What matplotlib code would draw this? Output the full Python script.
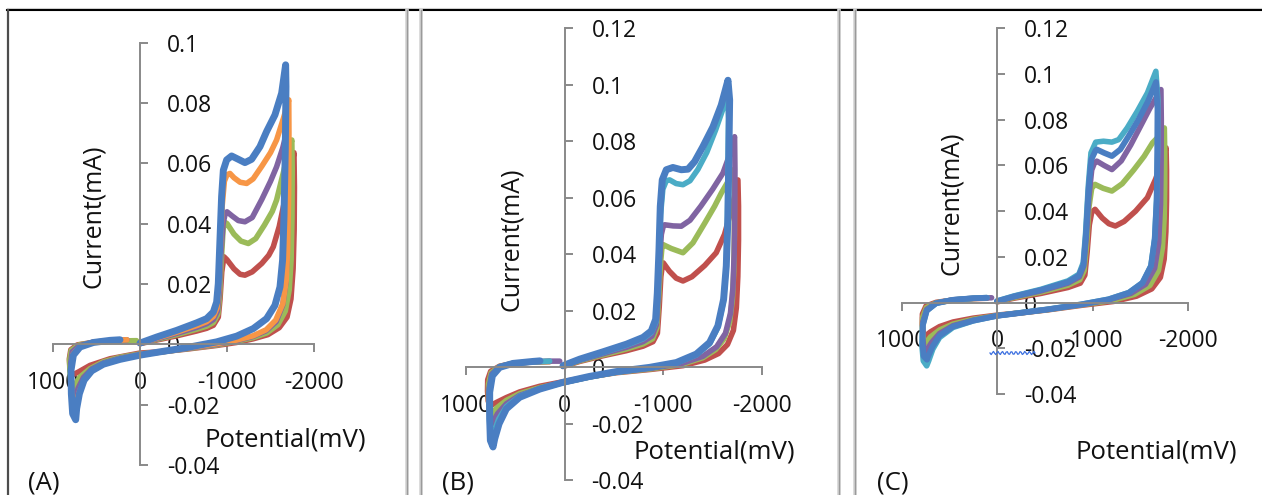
import numpy as np
import matplotlib
matplotlib.use("Agg")
import matplotlib.pyplot as plt
from matplotlib.lines import Line2D

plt.rcParams['font.family'] = ['Open Sans', 'DejaVu Sans']
plt.rcParams['axes.unicode_minus'] = False

# ---------------------------------------------------------------- data
# Cyclic voltammograms: (potential in mV, current in mA) along each sweep.
X_TICKS = [1000, 0, -1000, -2000]
X_TICK_LABELS = ["1000", "0", "-1000", "-2000"]
Y_TICKS_A = [-0.04, -0.02, 0, 0.02, 0.04, 0.06, 0.08, 0.1]
Y_TICK_LABELS_A = ["-0.04", "-0.02", "0", "0.02", "0.04", "0.06", "0.08", "0.1"]
Y_TICKS_BC = [-0.04, -0.02, 0, 0.02, 0.04, 0.06, 0.08, 0.1, 0.12]
Y_TICK_LABELS_BC = ["-0.04", "-0.02", "0", "0.02", "0.04", "0.06", "0.08", "0.1", "0.12"]
PANEL_LABELS = ["(A)", "(B)", "(C)"]

# ---- panel A
A_RED = [(0, 0.0002), (-192, 0.0014), (-421, 0.0028), (-651, 0.0044), (-766, 0.0053),
         (-843, 0.0063), (-900, 0.0090), (-920, 0.0150), (-940, 0.0240), (-965, 0.0290),
         (-1000, 0.0280), (-1080, 0.0250), (-1150, 0.0232), (-1206, 0.0229), (-1290, 0.0240),
         (-1400, 0.0268), (-1480, 0.0295), (-1532, 0.0323), (-1600, 0.0390), (-1680, 0.0500),
         (-1740, 0.0590), (-1770, 0.0635),
         (-1775, 0.0520), (-1772, 0.0380), (-1760, 0.0250), (-1735, 0.0150), (-1690, 0.0090),
         (-1600, 0.0055), (-1470, 0.0032), (-1300, 0.0018), (-1110, 0.0006), (-880, -0.0004),
         (-536, -0.0016), (-230, -0.0025), (0, -0.0029), (345, -0.0048), (575, -0.0070),
         (709, -0.0092), (785, -0.0103),
         (805, -0.0080), (812, -0.0048), (795, -0.0018), (720, -0.0002), (500, 0.0008),
         (250, 0.0011), (77, 0.0011)]
A_GREEN = [(0, 0.0003), (-192, 0.0016), (-421, 0.0032), (-651, 0.0050), (-766, 0.0060),
           (-843, 0.0072), (-895, 0.0100), (-915, 0.0160), (-935, 0.0280), (-955, 0.0380),
           (-970, 0.0405), (-1000, 0.0400), (-1080, 0.0365), (-1160, 0.0342), (-1245, 0.0334),
           (-1330, 0.0350), (-1430, 0.0395), (-1520, 0.0440), (-1570, 0.0478), (-1640, 0.0560),
           (-1700, 0.0630), (-1745, 0.0677),
           (-1750, 0.0580), (-1747, 0.0420), (-1737, 0.0280), (-1715, 0.0180), (-1670, 0.0110),
           (-1585, 0.0065), (-1460, 0.0038), (-1300, 0.0022), (-1110, 0.0010), (-880, -0.0002),
           (-536, -0.0015), (-230, -0.0026), (0, -0.0032), (230, -0.0043), (421, -0.0058),
           (575, -0.0081), (689, -0.0108), (766, -0.0142),
           (795, -0.0125), (806, -0.0090), (810, -0.0053), (790, -0.0020), (700, -0.0002),
           (500, 0.0008), (250, 0.0011), (40, 0.0012)]
A_PURPLE = [(0, 0.0003), (-192, 0.0018), (-421, 0.0036), (-651, 0.0056), (-766, 0.0068),
            (-843, 0.0082), (-890, 0.0110), (-910, 0.0170), (-930, 0.0300), (-955, 0.0400),
            (-980, 0.0433), (-1000, 0.0439), (-1060, 0.0425), (-1130, 0.0410), (-1206, 0.0406),
            (-1290, 0.0420), (-1400, 0.0480), (-1500, 0.0540), (-1570, 0.0588), (-1640, 0.0650),
            (-1700, 0.0720),
            (-1703, 0.0620), (-1700, 0.0450), (-1692, 0.0300), (-1675, 0.0200), (-1640, 0.0130),
            (-1565, 0.0075), (-1450, 0.0045), (-1300, 0.0026), (-1110, 0.0012), (-880, 0.0000),
            (-536, -0.0014), (-230, -0.0026), (0, -0.0034), (230, -0.0046), (421, -0.0062),
            (555, -0.0082), (650, -0.0110), (710, -0.0145), (755, -0.0180),
            (780, -0.0165), (795, -0.0120), (798, -0.0065), (780, -0.0025), (700, -0.0005),
            (540, 0.0007), (350, 0.0012), (150, 0.0015)]
A_ORANGE = [(0, 0.0004), (-192, 0.0020), (-421, 0.0040), (-651, 0.0062), (-766, 0.0075),
            (-843, 0.0092), (-885, 0.0120), (-905, 0.0180), (-925, 0.0320), (-945, 0.0460),
            (-970, 0.0540), (-1000, 0.0562), (-1034, 0.0566), (-1080, 0.0552), (-1150, 0.0537),
            (-1226, 0.0533), (-1300, 0.0548), (-1400, 0.0590), (-1500, 0.0635), (-1570, 0.0677),
            (-1650, 0.0750), (-1710, 0.0810),
            (-1712, 0.0700), (-1708, 0.0500), (-1698, 0.0320), (-1680, 0.0210), (-1642, 0.0135),
            (-1560, 0.0080), (-1450, 0.0048), (-1300, 0.0028), (-1110, 0.0014), (-880, 0.0002),
            (-536, -0.0013), (-230, -0.0025), (0, -0.0034), (230, -0.0048), (421, -0.0065),
            (555, -0.0088), (643, -0.0120), (700, -0.0160), (740, -0.0200), (750, -0.0220),
            (775, -0.0200), (788, -0.0150), (792, -0.0080), (770, -0.0033), (700, -0.0010),
            (540, 0.0006), (350, 0.0012), (150, 0.0015)]
A_BLUE = [(0, 0.0004), (-192, 0.0024), (-421, 0.0046), (-651, 0.0071), (-766, 0.0085),
          (-843, 0.0107), (-881, 0.0140), (-900, 0.0201), (-919, 0.0345), (-938, 0.0489),
          (-958, 0.0577), (-996, 0.0611), (-1053, 0.0624), (-1130, 0.0613), (-1206, 0.0602),
          (-1283, 0.0613), (-1379, 0.0655), (-1455, 0.0705), (-1551, 0.0760), (-1628, 0.0832),
          (-1674, 0.0926),
          (-1678, 0.0854), (-1670, 0.0644), (-1655, 0.0422), (-1639, 0.0279), (-1609, 0.0190),
          (-1551, 0.0129), (-1455, 0.0085), (-1302, 0.0052), (-1111, 0.0027), (-881, 0.0008),
          (-536, -0.0011), (-230, -0.0025), (0, -0.0036), (230, -0.0050), (421, -0.0066),
          (555, -0.0088), (643, -0.0119), (697, -0.0164), (728, -0.0213), (739, -0.0250),
          (774, -0.0230), (789, -0.0164), (793, -0.0086), (766, -0.0036), (689, -0.0009),
          (536, 0.0006), (345, 0.0013), (230, 0.0015)]

# ---- panel B
B_RED = [(17, 0.0002), (-152, 0.0020), (-388, 0.0040), (-625, 0.0058), (-794, 0.0074),
         (-895, 0.0090), (-940, 0.0120), (-958, 0.0210), (-975, 0.0320), (-990, 0.0360),
         (-1000, 0.0369), (-1060, 0.0340), (-1130, 0.0315), (-1199, 0.0305), (-1290, 0.0320),
         (-1420, 0.0360), (-1536, 0.0405), (-1620, 0.0470), (-1700, 0.0570), (-1756, 0.0663),
         (-1762, 0.0570), (-1762, 0.0450), (-1755, 0.0320), (-1740, 0.0210), (-1710, 0.0130),
         (-1650, 0.0080), (-1560, 0.0048), (-1420, 0.0025), (-1200, 0.0005), (-880, -0.0008),
         (-523, -0.0020), (-253, -0.0034), (17, -0.0052), (253, -0.0068), (456, -0.0088),
         (591, -0.0108), (690, -0.0125), (755, -0.0137),
         (775, -0.0120), (782, -0.0085), (780, -0.0045), (750, -0.0015), (660, 0.0003),
         (523, 0.0013), (321, 0.0018), (152, 0.0019)]
B_GREEN = [(17, 0.0003), (-152, 0.0022), (-388, 0.0043), (-625, 0.0064), (-794, 0.0082),
           (-890, 0.0100), (-935, 0.0140), (-952, 0.0240), (-970, 0.0360), (-985, 0.0420),
           (-996, 0.0434), (-1080, 0.0420), (-1199, 0.0405), (-1300, 0.0440), (-1420, 0.0510),
           (-1520, 0.0570), (-1587, 0.0616), (-1660, 0.0660), (-1715, 0.0700),
           (-1720, 0.0600), (-1720, 0.0470), (-1714, 0.0340), (-1700, 0.0240), (-1672, 0.0160),
           (-1615, 0.0100), (-1530, 0.0062), (-1400, 0.0033), (-1180, 0.0009), (-880, -0.0006),
           (-523, -0.0019), (-253, -0.0035), (17, -0.0055), (253, -0.0073), (456, -0.0094),
           (591, -0.0118), (690, -0.0145), (745, -0.0170),
           (765, -0.0150), (772, -0.0110), (772, -0.0060), (745, -0.0020), (660, 0.0002),
           (523, 0.0013), (321, 0.0018), (152, 0.0020)]
B_PURPLE = [(17, 0.0004), (-152, 0.0024), (-388, 0.0047), (-625, 0.0070), (-794, 0.0090),
            (-885, 0.0110), (-930, 0.0150), (-948, 0.0250), (-962, 0.0380), (-980, 0.0470),
            (-1000, 0.0500), (-1013, 0.0504), (-1100, 0.0500), (-1182, 0.0499), (-1270, 0.0520),
            (-1380, 0.0570), (-1500, 0.0630), (-1604, 0.0687), (-1670, 0.0750), (-1722, 0.0816),
            (-1726, 0.0700), (-1724, 0.0550), (-1718, 0.0400), (-1705, 0.0280), (-1680, 0.0190),
            (-1630, 0.0120), (-1540, 0.0072), (-1400, 0.0038), (-1180, 0.0012), (-880, -0.0004),
            (-523, -0.0018), (-253, -0.0035), (17, -0.0055), (253, -0.0076), (456, -0.0100),
            (591, -0.0130), (680, -0.0165), (735, -0.0200),
            (758, -0.0185), (766, -0.0140), (766, -0.0075), (740, -0.0025), (660, 0.0001),
            (523, 0.0013), (321, 0.0019), (152, 0.0021), (50, 0.0021)]
B_CYAN = [(17, 0.0004), (-152, 0.0026), (-388, 0.0051), (-625, 0.0077), (-794, 0.0100),
          (-878, 0.0122), (-925, 0.0160), (-942, 0.0250), (-958, 0.0400), (-972, 0.0540),
          (-995, 0.0630), (-1030, 0.0660), (-1064, 0.0663), (-1130, 0.0650), (-1199, 0.0646),
          (-1270, 0.0660), (-1350, 0.0700), (-1440, 0.0760), (-1530, 0.0840), (-1600, 0.0910),
          (-1650, 0.0970),
          (-1660, 0.0880), (-1655, 0.0700), (-1648, 0.0500), (-1635, 0.0340), (-1608, 0.0230),
          (-1552, 0.0140), (-1470, 0.0083), (-1335, 0.0043), (-1131, 0.0014), (-861, -0.0003),
          (-523, -0.0018), (-253, -0.0035), (17, -0.0055), (253, -0.0077), (456, -0.0103),
          (591, -0.0140), (670, -0.0185), (715, -0.0230), (732, -0.0254),
          (755, -0.0240), (762, -0.0180), (762, -0.0090), (735, -0.0030), (660, -0.0001),
          (523, 0.0013), (321, 0.0019), (152, 0.0021)]
B_BLUE = [(17, 0.0005), (-152, 0.0028), (-388, 0.0054), (-625, 0.0081), (-794, 0.0105),
          (-878, 0.0128), (-922, 0.0169), (-939, 0.0263), (-956, 0.0416), (-969, 0.0569),
          (-989, 0.0663), (-1030, 0.0699), (-1097, 0.0707), (-1182, 0.0699), (-1250, 0.0701),
          (-1317, 0.0728), (-1401, 0.0781), (-1503, 0.0851), (-1587, 0.0928), (-1655, 0.1016),
          (-1672, 0.0946), (-1665, 0.0769), (-1655, 0.0534), (-1638, 0.0358), (-1611, 0.0240),
          (-1553, 0.0146), (-1469, 0.0087), (-1334, 0.0046), (-1131, 0.0016), (-861, -0.0001),
          (-523, -0.0016), (-253, -0.0033), (17, -0.0054), (253, -0.0078), (456, -0.0107),
          (591, -0.0148), (665, -0.0201), (709, -0.0254), (726, -0.0283),
          (753, -0.0260), (760, -0.0183), (760, -0.0089), (733, -0.0031), (659, -0.0001),
          (523, 0.0013), (321, 0.0020), (250, 0.0022)]

# ---- panel C
C_RED = [(4, 0.0003), (-174, 0.0019), (-457, 0.0040), (-741, 0.0066), (-870, 0.0085),
         (-918, 0.0120), (-942, 0.0220), (-965, 0.0340), (-990, 0.0395), (-1025, 0.0408),
         (-1100, 0.0370), (-1170, 0.0345), (-1238, 0.0335), (-1330, 0.0355), (-1450, 0.0400),
         (-1574, 0.0459), (-1660, 0.0540), (-1730, 0.0620), (-1770, 0.0677),
         (-1775, 0.0580), (-1775, 0.0450), (-1768, 0.0310), (-1750, 0.0190), (-1710, 0.0110),
         (-1620, 0.0060), (-1460, 0.0028), (-1220, 0.0005), (-883, -0.0012), (-528, -0.0032),
         (-245, -0.0045), (4, -0.0055), (252, -0.0068), (465, -0.0085), (606, -0.0105),
         (700, -0.0128), (755, -0.0146),
         (778, -0.0130), (788, -0.0095), (786, -0.0050), (748, -0.0015), (642, 0.0001),
         (465, 0.0011), (252, 0.0017), (110, 0.0019)]
C_GREEN = [(4, 0.0004), (-174, 0.0022), (-457, 0.0046), (-741, 0.0076), (-865, 0.0100),
           (-910, 0.0140), (-936, 0.0250), (-962, 0.0420), (-990, 0.0500), (-1025, 0.0517),
           (-1110, 0.0500), (-1202, 0.0488), (-1310, 0.0520), (-1430, 0.0580), (-1540, 0.0640),
           (-1628, 0.0699), (-1700, 0.0730), (-1752, 0.0764),
           (-1756, 0.0660), (-1756, 0.0520), (-1750, 0.0370), (-1732, 0.0240), (-1690, 0.0140),
           (-1600, 0.0075), (-1440, 0.0036), (-1200, 0.0009), (-883, -0.0010), (-528, -0.0031),
           (-245, -0.0045), (4, -0.0057), (252, -0.0073), (465, -0.0094), (606, -0.0120),
           (700, -0.0150), (748, -0.0175),
           (775, -0.0160), (786, -0.0120), (784, -0.0065), (745, -0.0022), (642, -0.0001),
           (465, 0.0011), (252, 0.0018), (110, 0.0020)]
C_PURPLE = [(4, 0.0005), (-174, 0.0025), (-457, 0.0051), (-741, 0.0085), (-860, 0.0112),
            (-906, 0.0160), (-932, 0.0280), (-960, 0.0460), (-990, 0.0580), (-1020, 0.0612),
            (-1043, 0.0619), (-1120, 0.0600), (-1202, 0.0582), (-1300, 0.0620), (-1400, 0.0690),
            (-1500, 0.0770), (-1600, 0.0850), (-1716, 0.0932),
            (-1720, 0.0800), (-1718, 0.0620), (-1712, 0.0430), (-1692, 0.0260), (-1650, 0.0150),
            (-1555, 0.0080), (-1400, 0.0040), (-1170, 0.0012), (-883, -0.0009), (-528, -0.0030),
            (-245, -0.0045), (4, -0.0058), (252, -0.0077), (465, -0.0101), (606, -0.0135),
            (690, -0.0175), (742, -0.0210),
            (772, -0.0195), (784, -0.0150), (782, -0.0085), (742, -0.0030), (642, -0.0002),
            (465, 0.0012), (252, 0.0019), (60, 0.0021)]
C_CYAN = [(4, 0.0007), (-174, 0.0029), (-457, 0.0058), (-741, 0.0095), (-855, 0.0124),
          (-901, 0.0175), (-926, 0.0306), (-954, 0.0510), (-982, 0.0655), (-1032, 0.0702),
          (-1113, 0.0706), (-1202, 0.0702), (-1273, 0.0713), (-1362, 0.0764), (-1468, 0.0837),
          (-1574, 0.0917), (-1663, 0.1012),
          (-1684, 0.0888), (-1681, 0.0670), (-1670, 0.0451), (-1649, 0.0277), (-1610, 0.0160),
          (-1521, 0.0087), (-1379, 0.0044), (-1167, 0.0015), (-883, -0.0007), (-528, -0.0029),
          (-245, -0.0044), (4, -0.0058), (252, -0.0080), (465, -0.0109), (606, -0.0153),
          (677, -0.0204), (720, -0.0255), (741, -0.0277),
          (777, -0.0255), (791, -0.0189), (784, -0.0102), (741, -0.0036), (642, -0.0003),
          (465, 0.0012), (252, 0.0019), (110, 0.0022)]
C_BLUE = [(4, 0.0006), (-174, 0.0027), (-457, 0.0055), (-741, 0.0090), (-855, 0.0118),
          (-903, 0.0165), (-928, 0.0290), (-956, 0.0490), (-985, 0.0625), (-1030, 0.0665),
          (-1043, 0.0670), (-1120, 0.0655), (-1202, 0.0641), (-1290, 0.0670), (-1380, 0.0730),
          (-1480, 0.0800), (-1580, 0.0880), (-1665, 0.0965),
          (-1680, 0.0850), (-1678, 0.0660), (-1672, 0.0450), (-1652, 0.0280), (-1612, 0.0160),
          (-1522, 0.0086), (-1380, 0.0043), (-1167, 0.0014), (-883, -0.0008), (-528, -0.0030),
          (-245, -0.0045), (4, -0.0058), (252, -0.0079), (465, -0.0105), (606, -0.0145),
          (677, -0.0190), (725, -0.0235), (738, -0.0250),
          (772, -0.0235), (786, -0.0180), (782, -0.0100), (740, -0.0035), (642, -0.0003),
          (465, 0.0012), (252, 0.0019), (110, 0.0021)]

# ---------------------------------------------------------------- style
RED, GREEN, PURPLE = "#C0504D", "#9BBB59", "#8064A2"
ORANGE, CYAN, BLUE = "#F79646", "#4BACC6", "#4A7EC2"
AXIS_GREY = "#898989"
TEXT = "#111111"

W, H = 1262, 495
fig = plt.figure(figsize=(W / 100, H / 100), dpi=100)
fig.patch.set_facecolor("white")


def px(x, y):
    """Pixel position (from top-left) to figure fraction."""
    return x / W, 1 - y / H


def make_panel(x_left, x_right, y_top, y_bottom, ylim, yticks, yticklabels):
    ax = fig.add_axes([x_left / W, 1 - y_bottom / H,
                       (x_right - x_left) / W, (y_bottom - y_top) / H])
    ax.patch.set_visible(False)
    ax.set_xlim(1000, -2000)
    ax.set_ylim(*ylim)
    for side in ("top", "left"):
        ax.spines[side].set_visible(False)
    ax.spines["bottom"].set_position(("data", 0))
    ax.spines["right"].set_position(("data", 0))
    for side in ("bottom", "right"):
        ax.spines[side].set_color(AXIS_GREY)
        ax.spines[side].set_linewidth(1.4)
    ax.yaxis.set_ticks_position("right")
    ax.xaxis.set_ticks_position("bottom")
    ax.set_xticks(X_TICKS)
    ax.set_xticklabels(X_TICK_LABELS)
    ax.set_yticks(yticks)
    ax.set_yticklabels(yticklabels)
    ax.tick_params(axis="both", direction="out", length=5.8, width=1.4,
                   color=AXIS_GREY, labelsize=16.5, labelcolor=TEXT)
    ax.tick_params(axis="y", pad=13.5)
    ax.tick_params(axis="x", pad=13.5)
    return ax


def draw_loop(ax, series, color, lw):
    e, i = zip(*series)
    ax.plot(e, i, color=color, lw=lw, solid_joinstyle="round",
            solid_capstyle="round", clip_on=False)


ax_a = make_panel(53, 314, 42.5, 465, (-0.04, 0.1), Y_TICKS_A, Y_TICK_LABELS_A)
ax_b = make_panel(466, 762, 28.3, 480, (-0.04, 0.12), Y_TICKS_BC, Y_TICK_LABELS_BC)
ax_c = make_panel(902, 1188, 28.3, 394, (-0.04, 0.12), Y_TICKS_BC, Y_TICK_LABELS_BC)

THIN, THICK = 4.0, 5.0
for s, c in [(A_RED, RED), (A_GREEN, GREEN), (A_PURPLE, PURPLE), (A_ORANGE, ORANGE)]:
    draw_loop(ax_a, s, c, THIN)
draw_loop(ax_a, A_BLUE, BLUE, THICK)

for s, c in [(B_RED, RED), (B_GREEN, GREEN), (B_PURPLE, PURPLE), (B_CYAN, CYAN)]:
    draw_loop(ax_b, s, c, THIN)
draw_loop(ax_b, B_BLUE, BLUE, THICK)

for s, c in [(C_RED, RED), (C_GREEN, GREEN), (C_PURPLE, PURPLE), (C_CYAN, CYAN)]:
    draw_loop(ax_c, s, c, THIN)
draw_loop(ax_c, C_BLUE, BLUE, 4.2)

# axis titles
for (x, y) in [(93, 216), (512, 239), (951, 203)]:
    fig.text(*px(x, y), "Current(mA)", rotation=90, ha="center", va="center",
             fontsize=18, color=TEXT)
for (x, y) in [(285, 440), (714, 452), (1156, 452)]:
    fig.text(*px(x, y), "Potential(mV)", ha="center", va="center",
             fontsize=18.5, color=TEXT)

# panel letters
for label, (x, y) in zip(PANEL_LABELS, [(28, 489), (442, 489), (877, 489)]):
    fig.text(*px(x, y), label, ha="left", va="baseline", fontsize=18.5, color=TEXT)

# spell-check squiggle under the overlapping labels of the third panel
sx = np.linspace(990, 1035, 40)
sy = 353 + 1.6 * np.sin((sx - 990) / 4.5 * 2 * np.pi)
fig.add_artist(Line2D(sx / W, 1 - sy / H, color="#3B6FE0", lw=0.9,
                      transform=fig.transFigure))


# page frame and panel separators
def fig_line(xs, ys, color, lw):
    fig.add_artist(Line2D([x / W for x in xs], [1 - y / H for y in ys],
                          color=color, lw=lw, transform=fig.transFigure))


fig_line([7, W], [8, 8], "#d8d8d8", 0.8)
fig_line([7, W], [9.5, 9.5], "#000000", 1.5)
fig_line([7.5, 7.5], [9.5, H], "#4d4d4d", 1.6)
for x in (406.7, 421, 839, 855.3):
    fig_line([x, x], [10, H], "#d4d4d4", 2.6)
    fig_line([x, x], [10, H], "#9a9a9a", 1.0)

fig.savefig("out.png", dpi=100, facecolor="white")
